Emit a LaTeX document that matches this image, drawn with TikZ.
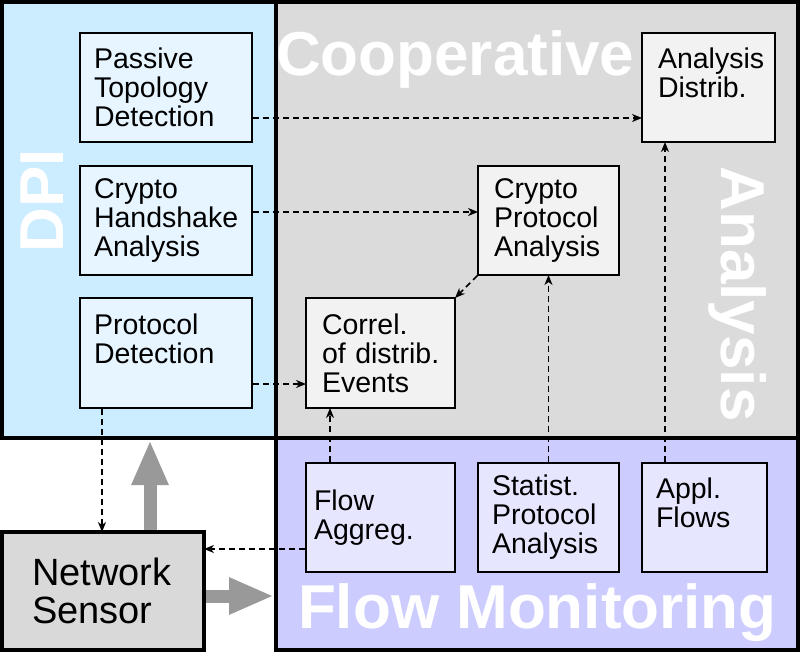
\documentclass[tikz,border=0pt]{standalone}
\usepackage{fontspec}
\setmainfont{Liberation Sans}
\usetikzlibrary{arrows.meta}
\definecolor{dpibg}{RGB}{204,236,255}
\definecolor{dpibox}{RGB}{230,245,255}
\definecolor{coopbg}{RGB}{219,219,219}
\definecolor{coopbox}{RGB}{242,242,242}
\definecolor{fmbg}{RGB}{204,204,255}
\definecolor{fmbox}{RGB}{230,230,255}
\definecolor{nsbg}{RGB}{217,217,217}
\definecolor{arrgray}{RGB}{153,153,153}
\newcommand\indtext[2]{\parindent=0pt\leftskip=#1\relax\rightskip=0pt plus 1fil\relax\hyphenpenalty=10000\relax #2\par}
\begin{document}
\begin{tikzpicture}[x=1pt,y=-1pt,
  region/.style={draw=black, line width=4pt, anchor=north west, inner sep=0pt, outer sep=0pt},
  box/.style={draw=black, line width=2pt, anchor=north west, inner sep=0pt, outer sep=0pt,
    font={\fontsize{28.5}{29}\selectfont}},
  biglabel/.style={text=white, inner sep=0pt, outer sep=0pt},
  darr/.style={draw=black, line width=1.5pt, dash pattern=on 6pt off 4pt,
    -{Stealth[length=10pt,width=8pt,inset=3pt]}, shorten <=1pt},
  bigarr/.style={draw=arrgray, line width=13pt, -{Triangle[length=45pt,width=34pt]},
    shorten <=2pt, shorten >=2pt}
]
\useasboundingbox (0,0) rectangle (800,652);
% regions
\node[region, fill=dpibg, minimum width=274pt, minimum height=436pt] (dpi) at (2,2) {};
\node[region, fill=coopbg, minimum width=522pt, minimum height=436pt] (coop) at (276,2) {};
\node[region, fill=fmbg, minimum width=522pt, minimum height=212pt] (fm) at (276,438) {};
% region labels
\node[biglabel, anchor=base west, font=\bfseries\fontsize{62}{62}\selectfont] (coopl) at (276,76) {Cooperative};
\node[biglabel, anchor=base, rotate=90, font=\bfseries\fontsize{62}{62}\selectfont] (dpil) at (63,201) {DPI};
\node[biglabel, anchor=base, rotate=-90, font=\bfseries\fontsize{62}{62}\selectfont] (anl) at (721,294) {Analysis};
\node[biglabel, anchor=base west, font=\bfseries\fontsize{62}{62}\selectfont] (fml) at (298,628) {Flow Monitoring};
% DPI boxes
\node[box, fill=dpibox, text width=172pt, minimum height=109pt] (ptd) at (80,33)
  {\indtext{14pt}{Passive\\Topology\\Detection}};
\node[box, fill=dpibox, text width=172pt, minimum height=109pt] (cha) at (80,166)
  {\indtext{14pt}{Crypto\\Handshake\\Analysis}};
\node[box, fill=dpibox, text width=172pt, minimum height=110pt] (pd) at (80,298)
  {\indtext{14pt}{Protocol\\Detection\\\mbox{}}};
% cooperative boxes
\node[box, fill=coopbox, text width=149pt, minimum height=110pt] (cor) at (306,298)
  {\indtext{16pt}{Correl.\\of distrib.\\Events}};
\node[box, fill=coopbox, text width=141pt, minimum height=109pt] (cpa) at (478,166)
  {\indtext{16pt}{Crypto\\Protocol\\Analysis}};
\node[box, fill=coopbox, text width=133pt, minimum height=109pt] (ad) at (642,33)
  {\indtext{16pt}{Analysis\\Distrib.\\\mbox{}}};
% flow boxes
\node[box, fill=fmbox, text width=149pt, minimum height=109pt] (fa) at (306,463)
  {\indtext{8pt}{Flow\\Aggreg.}};
\node[box, fill=fmbox, text width=141pt, minimum height=109pt] (spa) at (478,463)
  {\indtext{14pt}{Statist.\\Protocol\\Analysis}};
\node[box, fill=fmbox, text width=125pt, minimum height=109pt] (af) at (642,463)
  {\indtext{14pt}{Appl.\\Flows\\\mbox{}}};
% network sensor
\node[box, fill=nsbg, line width=4pt, text width=202pt, minimum height=118pt,
  font=\fontsize{38}{38}\selectfont] (ns) at (2,532)
  {\indtext{30pt}{Network\\Sensor}};
% dashed arrows
\draw[darr] ([yshift=24pt]ptd.south east) -- ([yshift=24pt]ad.south west);
\draw[darr] ([yshift=8.5pt]cha.east) -- ([yshift=8.5pt]cpa.west);
\draw[darr] ([yshift=24pt]pd.south east) -- ([yshift=24pt]cor.south west);
\draw[darr] (cpa.south west) -- (cor.north east);
\draw[darr] (spa.north) -- (cpa.south);
\draw[darr] ([xshift=23pt]af.north west) -- ([xshift=23pt]ad.south west);
\draw[darr] ([xshift=24pt]fa.north west) -- ([xshift=24pt]cor.south west);
\draw[darr] ([yshift=23pt]fa.south west) -- ([yshift=-17pt]ns.north east);
\draw[darr] ([xshift=22pt]pd.south west) -- ([xshift=100pt]ns.north west);
% big arrows
\draw[bigarr] ([xshift=148pt]ns.north west) -- ([xshift=148pt]dpi.south west);
\draw[bigarr] ([yshift=-5pt]ns.east) -- ([yshift=-5pt]ns.east -| fm.west);
\end{tikzpicture}
\end{document}
